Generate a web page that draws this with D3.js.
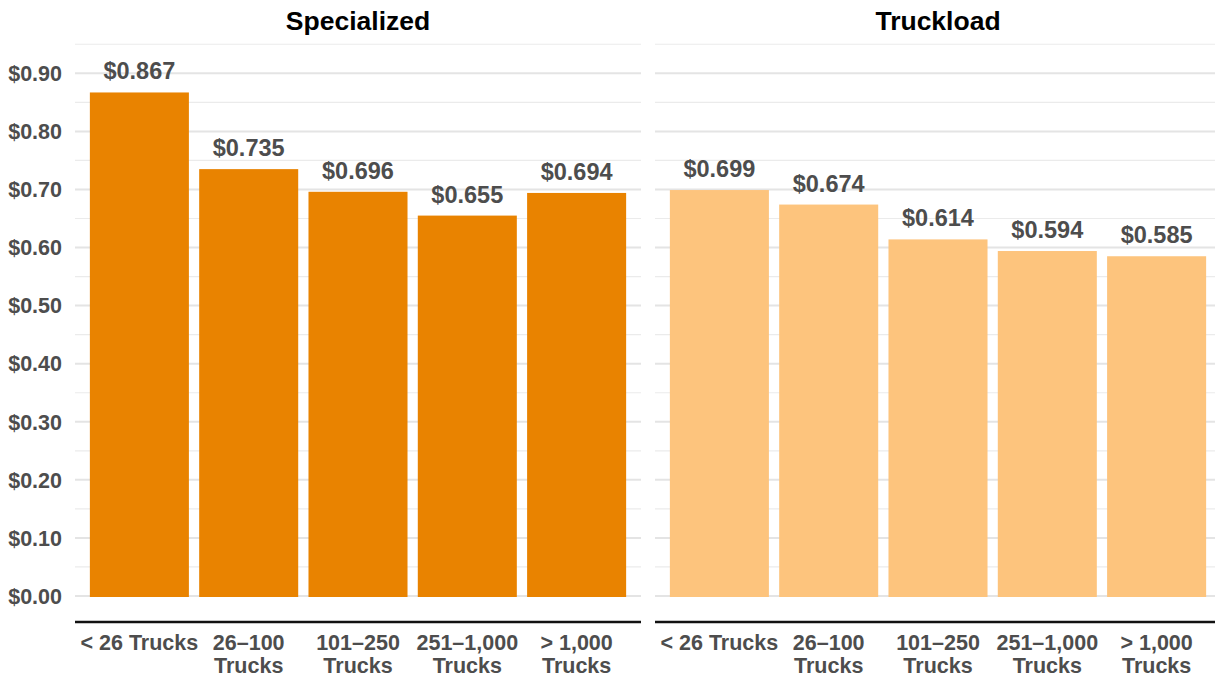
<!DOCTYPE html>
<html>
<head>
<meta charset="utf-8">
<script src="https://cdn.jsdelivr.net/npm/d3@7"></script>
<style>
  body { margin: 0; background: #fff; }
  svg { font-family: "Liberation Sans", Arial, sans-serif; font-weight: bold; }
</style>
</head>
<body>
<svg id="chart" width="1215" height="679"></svg>
<script>
// categories and values per panel
var categories = ["< 26 Trucks", "26–100 Trucks", "101–250 Trucks", "251–1,000 Trucks", "> 1,000 Trucks"];
var tickLines = [["< 26 Trucks"], ["26–100", "Trucks"], ["101–250", "Trucks"], ["251–1,000", "Trucks"], ["> 1,000", "Trucks"]];
var panelNames = ["Specialized", "Truckload"];
var specialized = [0.867, 0.735, 0.696, 0.655, 0.694];
var truckload = [0.699, 0.674, 0.614, 0.594, 0.585];
var majorTicks = [0, 0.1, 0.2, 0.3, 0.4, 0.5, 0.6, 0.7, 0.8, 0.9];
var minorTicks = [0.05, 0.15, 0.25, 0.35, 0.45, 0.55, 0.65, 0.75, 0.85, 0.95];

var panelValues = [specialized, truckload];
var panelColors = ["#e98300", "#fdc47d"];
var panelLeft = [75, 655];
var panelWidth = 566;

var svg = d3.select("#chart");

var y = d3.scaleLinear().domain([0, 0.9]).range([596, 73.3]);
var fmtTick = function(d) { return "$" + d3.format(".2f")(d); };
var fmtVal = function(d) { return "$" + d3.format(".3f")(d); };

// y tick labels on the left only
svg.append("g").selectAll("text")
    .data(majorTicks)
    .enter().append("text")
    .attr("x", 62)
    .attr("y", function(d) { return y(d); })
    .attr("dy", "0.36em")
    .attr("text-anchor", "end")
    .style("font-size", "21.5px")
    .style("fill", "#4d4d4d")
    .text(fmtTick);

panelNames.forEach(function(name, i) {
    var x0 = panelLeft[i];
    var x = d3.scaleBand()
        .domain(categories)
        .range([x0, x0 + panelWidth])
        .paddingInner(0.094)
        .paddingOuter(0.136);

    var g = svg.append("g").attr("class", "panel");

    // gridlines
    g.selectAll(".minor")
        .data(minorTicks)
        .enter().append("line")
        .attr("x1", x0).attr("x2", x0 + panelWidth)
        .attr("y1", function(d) { return y(d); })
        .attr("y2", function(d) { return y(d); })
        .style("stroke", "#ebebeb")
        .style("stroke-width", 1.2);

    g.selectAll(".major")
        .data(majorTicks)
        .enter().append("line")
        .attr("x1", x0).attr("x2", x0 + panelWidth)
        .attr("y1", function(d) { return y(d); })
        .attr("y2", function(d) { return y(d); })
        .style("stroke", "#e4e4e4")
        .style("stroke-width", 2);

    var data = categories.map(function(c, j) { return { cat: c, value: panelValues[i][j] }; });

    g.selectAll(".bar")
        .data(data)
        .enter().append("rect")
        .attr("x", function(d) { return x(d.cat); })
        .attr("y", function(d) { return y(d.value); })
        .attr("width", x.bandwidth())
        .attr("height", function(d) { return y(0) - y(d.value) + 1; })
        .style("fill", panelColors[i]);

    g.selectAll(".val")
        .data(data)
        .enter().append("text")
        .attr("x", function(d) { return x(d.cat) + x.bandwidth() / 2; })
        .attr("y", function(d) { return y(d.value) - 13; })
        .attr("text-anchor", "middle")
        .style("font-size", "23.5px")
        .style("fill", "#4d4d4d")
        .text(function(d) { return fmtVal(d.value); });

    // panel title
    g.append("text")
        .attr("x", x0 + panelWidth / 2)
        .attr("y", 30)
        .attr("text-anchor", "middle")
        .style("font-size", "26.5px")
        .style("fill", "#000")
        .text(name);

    // bottom axis line
    g.append("line")
        .attr("x1", x0).attr("x2", x0 + panelWidth)
        .attr("y1", 622).attr("y2", 622)
        .style("stroke", "#111")
        .style("stroke-width", 2.5);

    // x tick labels
    var tl = g.selectAll(".tick")
        .data(categories)
        .enter().append("text")
        .attr("x", function(d) { return x(d) + x.bandwidth() / 2; })
        .attr("y", 650)
        .attr("text-anchor", "middle")
        .style("font-size", "21.5px")
        .style("fill", "#4d4d4d");

    tl.each(function(d, j) {
        var t = d3.select(this);
        tickLines[j].forEach(function(line, k) {
            t.append("tspan")
                .attr("x", x(d) + x.bandwidth() / 2)
                .attr("dy", k === 0 ? 0 : 23)
                .text(line);
        });
    });
});
</script>
</body>
</html>
